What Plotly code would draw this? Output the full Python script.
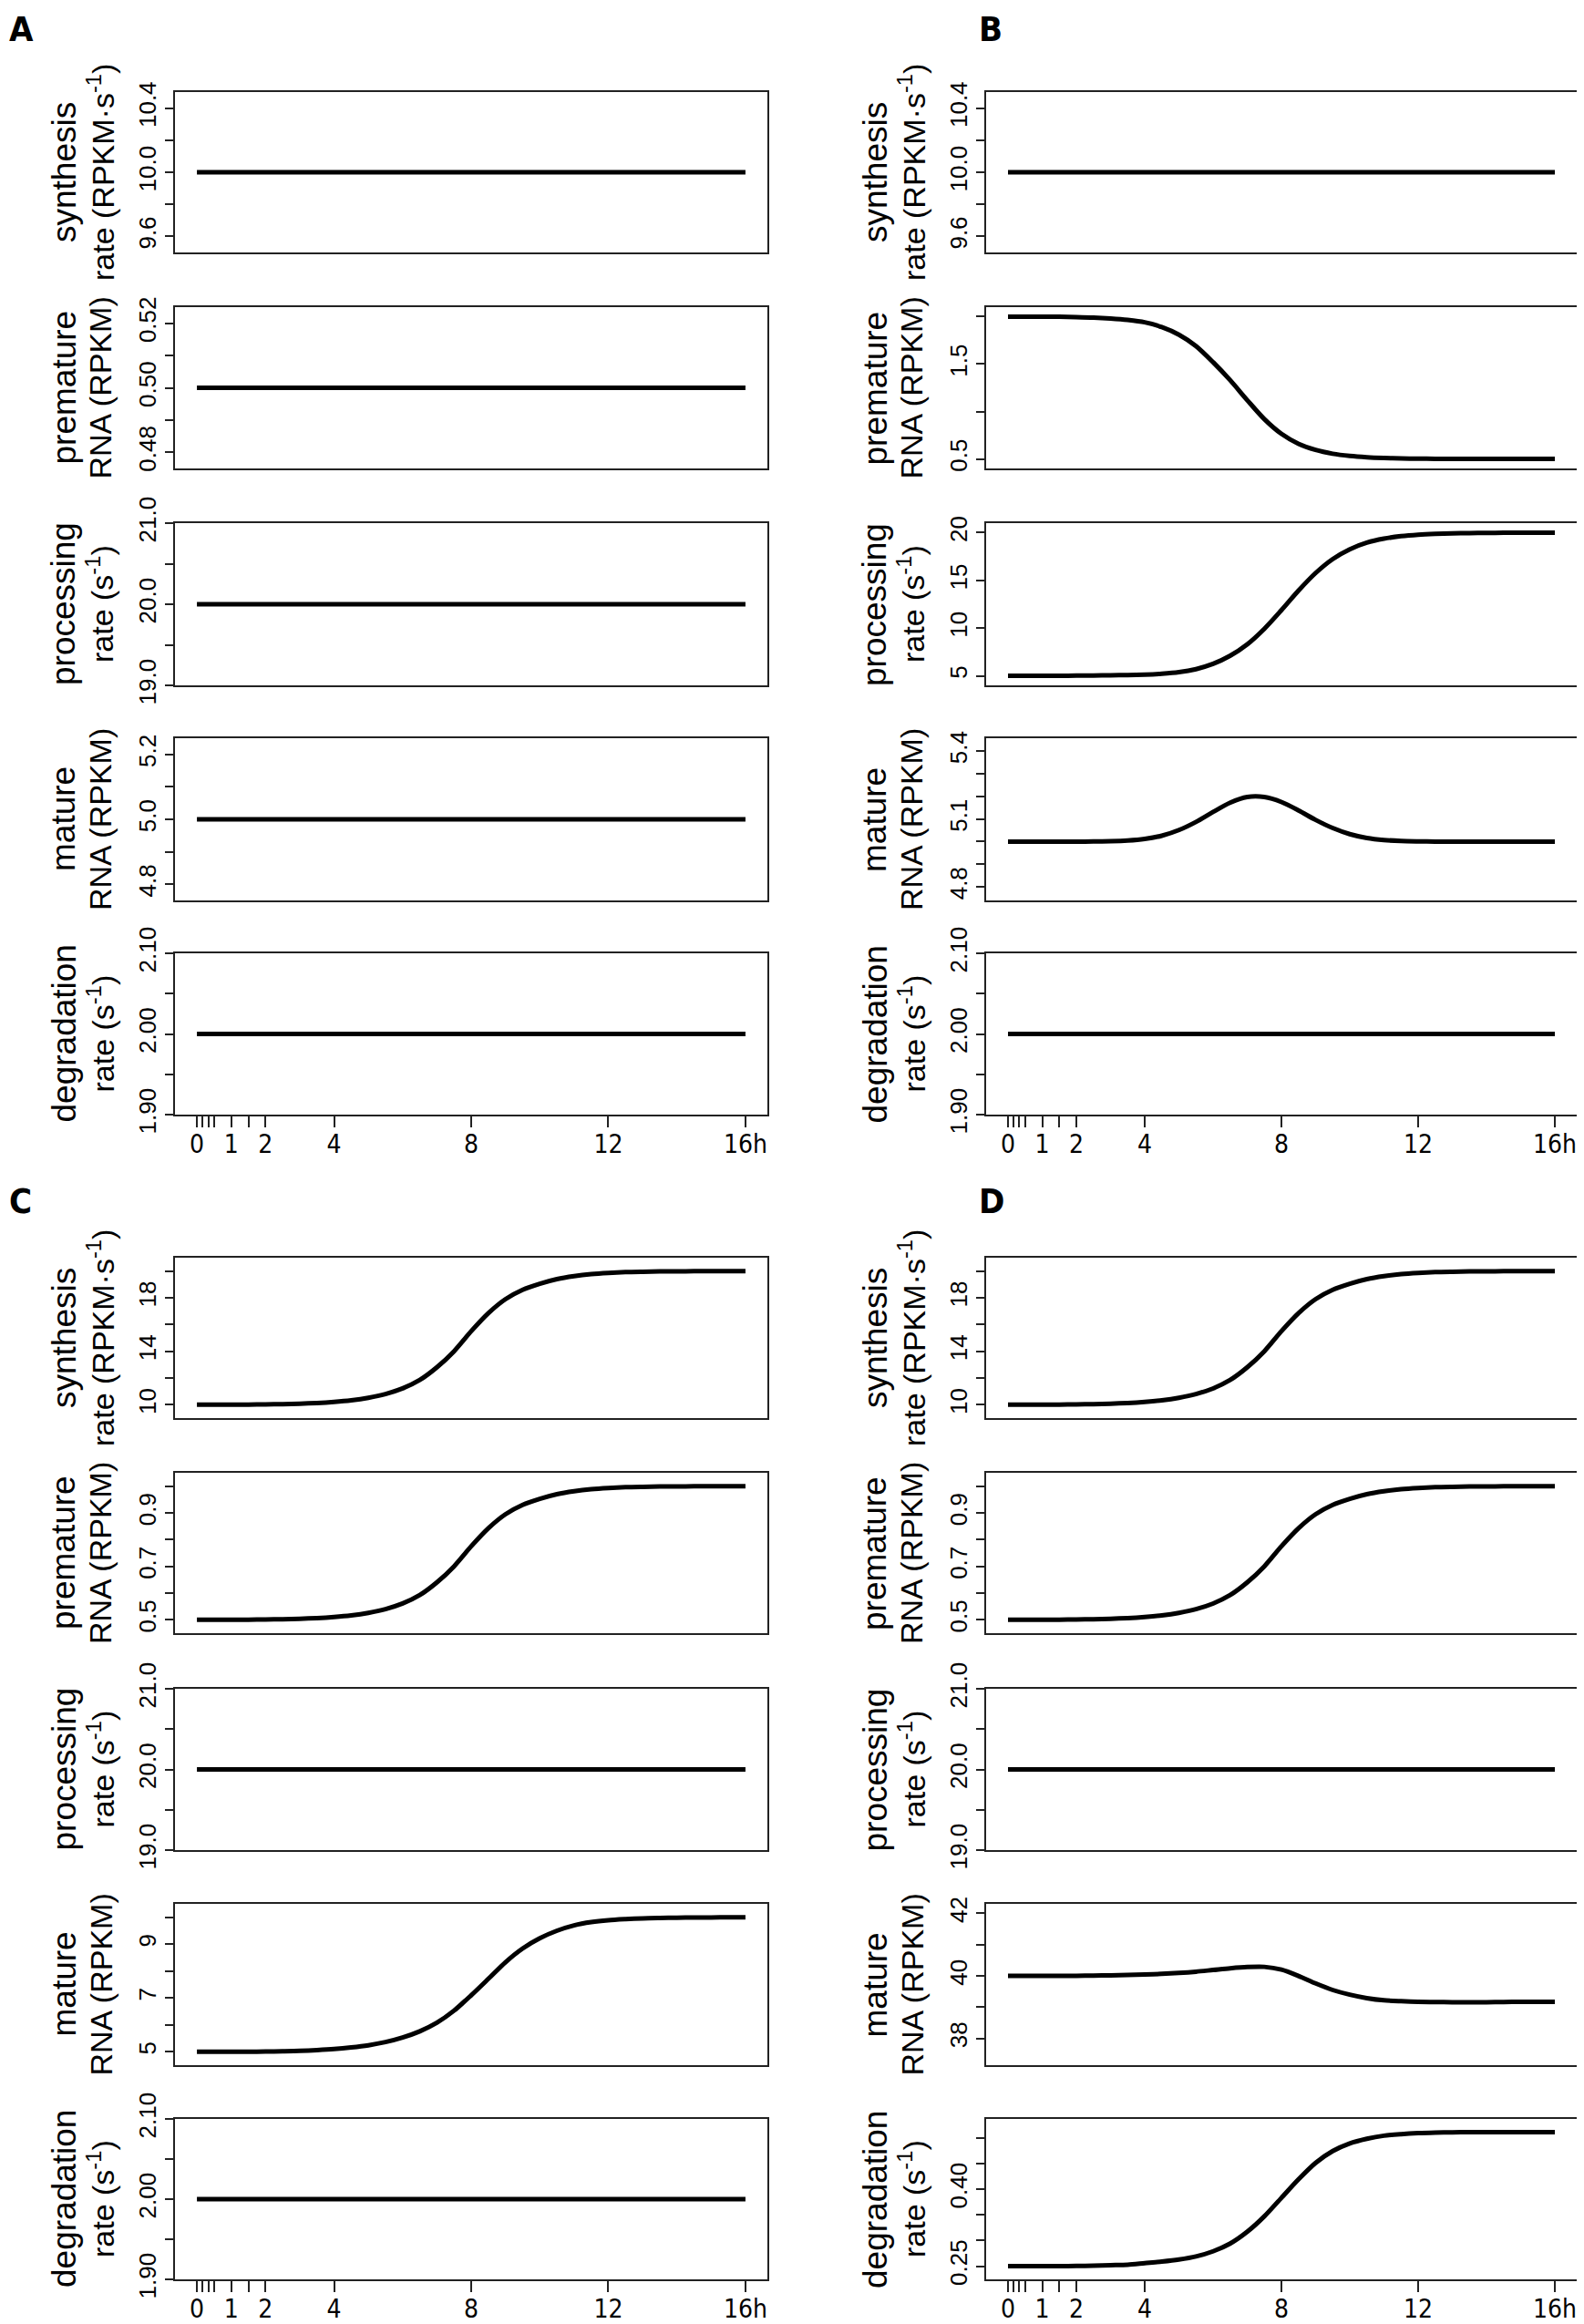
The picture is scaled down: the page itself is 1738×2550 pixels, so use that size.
import plotly.graph_objects as go

# ---------------- data ----------------
TIME = [0, 0.5, 1, 1.5, 2, 2.5, 3, 3.5, 4, 4.5, 5, 5.5, 6, 6.5, 7, 7.5, 8,
        8.5, 9, 9.5, 10, 10.5, 11, 11.5, 12, 12.5, 13, 13.5, 14, 14.5, 15, 15.5, 16]
TIME_CONST = [0, 16]

synthesis_const = [10.0, 10.0]
premature_const = [0.5, 0.5]
processing_const = [20.0, 20.0]
mature_const = [5.0, 5.0]
degradation_const = [2.0, 2.0]

B_premature = [2.0, 2.0, 2.0, 1.998, 1.995, 1.99, 1.98, 1.965, 1.94, 1.89, 1.81, 1.69, 1.52,
               1.33, 1.12, 0.92, 0.765, 0.66, 0.595, 0.555, 0.532, 0.518, 0.51, 0.505, 0.503,
               0.502, 0.501, 0.5, 0.5, 0.5, 0.5, 0.5, 0.5]
B_processing = [5.0, 5.0, 5.005, 5.01, 5.015, 5.03, 5.05, 5.08, 5.13, 5.22, 5.38, 5.7, 6.25,
                7.1, 8.3, 9.93, 11.88, 13.93, 15.77, 17.23, 18.26, 18.95, 19.37, 19.63, 19.79,
                19.88, 19.93, 19.96, 19.98, 19.99, 20.0, 20.0, 20.0]
B_mature = [5.0, 5.0, 5.0, 5.0, 5.0001, 5.0004, 5.0015, 5.0045, 5.0116, 5.026, 5.051, 5.087,
            5.131, 5.172, 5.197, 5.197, 5.175, 5.138, 5.096, 5.06, 5.033, 5.016, 5.007, 5.0027,
            5.001, 5.0, 5.0, 5.0, 5.0, 5.0, 5.0, 5.0, 5.0]
CD_synthesis = [10.0, 10.002, 10.005, 10.012, 10.025, 10.045, 10.08, 10.13, 10.21, 10.33, 10.52,
                10.8, 11.22, 11.85, 12.8, 14.0, 15.5, 16.85, 17.9, 18.6, 19.05, 19.4, 19.62,
                19.77, 19.86, 19.92, 19.95, 19.97, 19.98, 19.99, 20.0, 20.0, 20.0]
CD_premature = [0.5, 0.5001, 0.50025, 0.5006, 0.50125, 0.50225, 0.504, 0.5065, 0.5105, 0.5165,
                0.526, 0.54, 0.561, 0.5925, 0.64, 0.70, 0.775, 0.8425, 0.895, 0.93, 0.9525,
                0.97, 0.981, 0.9885, 0.993, 0.996, 0.9975, 0.9985, 0.999, 0.9995, 1.0, 1.0, 1.0]
C_mature = [5.0, 5.0, 5.0, 5.0, 5.005, 5.015, 5.03, 5.06, 5.1, 5.16, 5.24, 5.36, 5.53, 5.76,
            6.08, 6.53, 7.1, 7.71, 8.33, 8.84, 9.22, 9.5, 9.7, 9.82, 9.89, 9.93, 9.96, 9.975,
            9.985, 9.99, 9.995, 10.0, 10.0]
D_mature = [40.0, 40.0, 40.0, 40.0, 40.005, 40.01, 40.02, 40.03, 40.045, 40.065, 40.095,
            40.135, 40.19, 40.245, 40.285, 40.29, 40.2, 40.0, 39.76, 39.55, 39.4, 39.29, 39.22,
            39.19, 39.17, 39.165, 39.16, 39.16, 39.16, 39.165, 39.17, 39.17, 39.17]
D_degradation = [0.25, 0.25, 0.25, 0.25, 0.2505, 0.251, 0.252, 0.253, 0.256, 0.259, 0.263,
                 0.269, 0.279, 0.294, 0.317, 0.347, 0.383, 0.419, 0.451, 0.474, 0.489, 0.498,
                 0.504, 0.507, 0.509, 0.51, 0.5105, 0.511, 0.511, 0.511, 0.511, 0.511, 0.511]

# tick labels
X_TICKS = [0, 0.167, 0.333, 0.5, 1, 1.5, 2, 4, 8, 12, 16]
X_TICK_TEXT = ["0", "", "", "", "1", "", "2", "4", "8", "12", "16h"]

T_SYN_CONST = ([9.6, 9.8, 10.0, 10.2, 10.4], ["9.6", "", "10.0", "", "10.4"])
T_PRE_CONST = ([0.48, 0.49, 0.50, 0.51, 0.52], ["0.48", "", "0.50", "", "0.52"])
T_PROC_CONST = ([19.0, 19.5, 20.0, 20.5, 21.0], ["19.0", "", "20.0", "", "21.0"])
T_MAT_CONST = ([4.8, 4.9, 5.0, 5.1, 5.2], ["4.8", "", "5.0", "", "5.2"])
T_DEG_CONST = ([1.90, 1.95, 2.00, 2.05, 2.10], ["1.90", "", "2.00", "", "2.10"])
T_B_PRE = ([0.5, 1.0, 1.5, 2.0], ["0.5", "", "1.5", ""])
T_B_PROC = ([5, 10, 15, 20], ["5", "10", "15", "20"])
T_B_MAT = ([4.8, 4.9, 5.0, 5.1, 5.2, 5.3, 5.4], ["4.8", "", "", "5.1", "", "", "5.4"])
T_CD_SYN = ([10, 12, 14, 16, 18, 20], ["10", "", "14", "", "18", ""])
T_CD_PRE = ([0.5, 0.6, 0.7, 0.8, 0.9, 1.0], ["0.5", "", "0.7", "", "0.9", ""])
T_C_MAT = ([5, 6, 7, 8, 9, 10], ["5", "", "7", "", "9", ""])
T_D_MAT = ([38, 39, 40, 41, 42], ["38", "", "40", "", "42"])
T_D_DEG = ([0.25, 0.30, 0.35, 0.40, 0.45, 0.50], ["0.25", "", "", "0.40", "", ""])

ROW_TITLES = [("synthesis", "rate (RPKM·s<sup>-1</sup>)"),
              ("premature", "RNA (RPKM)"),
              ("processing", "rate (s<sup>-1</sup>)"),
              ("mature", "RNA (RPKM)"),
              ("degradation", "rate (s<sup>-1</sup>)")]

PANELS = {
    "A": [(TIME_CONST, synthesis_const, T_SYN_CONST),
          (TIME_CONST, premature_const, T_PRE_CONST),
          (TIME_CONST, processing_const, T_PROC_CONST),
          (TIME_CONST, mature_const, T_MAT_CONST),
          (TIME_CONST, degradation_const, T_DEG_CONST)],
    "B": [(TIME_CONST, synthesis_const, T_SYN_CONST),
          (TIME, B_premature, T_B_PRE),
          (TIME, B_processing, T_B_PROC),
          (TIME, B_mature, T_B_MAT),
          (TIME_CONST, degradation_const, T_DEG_CONST)],
    "C": [(TIME, CD_synthesis, T_CD_SYN),
          (TIME, CD_premature, T_CD_PRE),
          (TIME_CONST, processing_const, T_PROC_CONST),
          (TIME, C_mature, T_C_MAT),
          (TIME_CONST, degradation_const, T_DEG_CONST)],
    "D": [(TIME, CD_synthesis, T_CD_SYN),
          (TIME, CD_premature, T_CD_PRE),
          (TIME_CONST, processing_const, T_PROC_CONST),
          (TIME, D_mature, T_D_MAT),
          (TIME, D_degradation, T_D_DEG)],
}

# ---------------- layout geometry (pixels) ----------------
W, H = 1738, 2550
COL_X = {"A": (184, 834), "B": (1074, 1722), "C": (184, 834), "D": (1074, 1722)}
ROWS_TOP = [(93, 269), (329, 506), (566, 744), (802, 980), (1038, 1215)]
ROWS_BOT = [(1372, 1548), (1608, 1784), (1845, 2022), (2081, 2258), (2317, 2493)]
PANEL_ROWS = {"A": ROWS_TOP, "B": ROWS_TOP, "C": ROWS_BOT, "D": ROWS_BOT}
LETTER_POS = {"A": (0, 0), "B": (1064, 0), "C": (0, 1286), "D": (1064, 1286)}
TITLE_OFFSETS = (-122, -82)

TICK_FONT = dict(family="Liberation Sans, Arial, sans-serif", size=26, color="black")
XTICK_FONT = dict(family="Liberation Sans Narrow, DejaVu Sans Condensed, Arial Narrow, sans-serif",
                  size=28, color="black")
TITLE_FONTS = (dict(family="Liberation Sans, Arial, sans-serif", size=37, color="black"),
               dict(family="Liberation Sans, Arial, sans-serif", size=34, color="black"))
LETTER_FONT = dict(family="Liberation Sans Narrow, DejaVu Sans Condensed, sans-serif",
                   size=38, color="black")

fig = go.Figure()
layout = dict(width=W, height=H, autosize=False,
              margin=dict(l=0, r=0, t=0, b=0, pad=0, autoexpand=False),
              paper_bgcolor="white", plot_bgcolor="white", showlegend=False)
annotations = []

idx = 0
for letter in ["A", "B", "C", "D"]:
    x0, x1 = COL_X[letter]
    for r, (tx, vals, ticks) in enumerate(PANELS[letter]):
        idx += 1
        top, bot = PANEL_ROWS[letter][r]
        xname = "xaxis" if idx == 1 else f"xaxis{idx}"
        yname = "yaxis" if idx == 1 else f"yaxis{idx}"
        xref = "x" if idx == 1 else f"x{idx}"
        yref = "y" if idx == 1 else f"y{idx}"
        fig.add_trace(go.Scatter(x=tx, y=vals, mode="lines", xaxis=xref, yaxis=yref,
                                 line=dict(color="black", width=5, shape="spline", smoothing=0.8),
                                 hoverinfo="skip"))
        vmin, vmax = min(vals), max(vals)
        yrange = [vmin - 0.05 * vmax, vmax * 1.05]
        bottom_row = (r == 4)
        layout[xname] = dict(domain=[x0 / W, x1 / W], range=[-0.64, 16.64], anchor=yref,
                             automargin=False,
                             showgrid=False, zeroline=False, showline=True, mirror=True,
                             linecolor="#222", linewidth=2,
                             tickmode="array", tickvals=X_TICKS,
                             ticktext=X_TICK_TEXT if bottom_row else [""] * len(X_TICKS),
                             ticks="outside" if bottom_row else "", ticklen=12, tickwidth=2,
                             tickcolor="#222", showticklabels=bottom_row, tickfont=XTICK_FONT,
                             ticklabelstandoff=-6, fixedrange=True)
        layout[yname] = dict(domain=[1 - bot / H, 1 - top / H], range=yrange, anchor=xref,
                             automargin=False,
                             showgrid=False, zeroline=False, showline=True, mirror=True,
                             linecolor="#222", linewidth=2,
                             tickmode="array", tickvals=ticks[0], ticktext=ticks[1],
                             ticks="outside", ticklen=9, tickwidth=2, tickcolor="#222",
                             tickangle=-90, tickfont=TICK_FONT, fixedrange=True)
        ycen = 1 - (top + bot) / 2 / H
        for line_text, off, fnt in zip(ROW_TITLES[r], TITLE_OFFSETS, TITLE_FONTS):
            annotations.append(dict(xref="paper", yref="paper", x=(x0 + off) / W, y=ycen,
                                    xanchor="center", yanchor="middle", text=line_text,
                                    textangle=-90, showarrow=False, font=fnt))
    lx, ly = LETTER_POS[letter]
    annotations.append(dict(xref="paper", yref="paper", x=lx / W, y=1 - ly / H,
                            xanchor="left", yanchor="top", text=f"<b>{letter}</b>",
                            showarrow=False, font=LETTER_FONT))

layout["annotations"] = annotations
fig.update_layout(**layout)
fig.write_html("out.html")
